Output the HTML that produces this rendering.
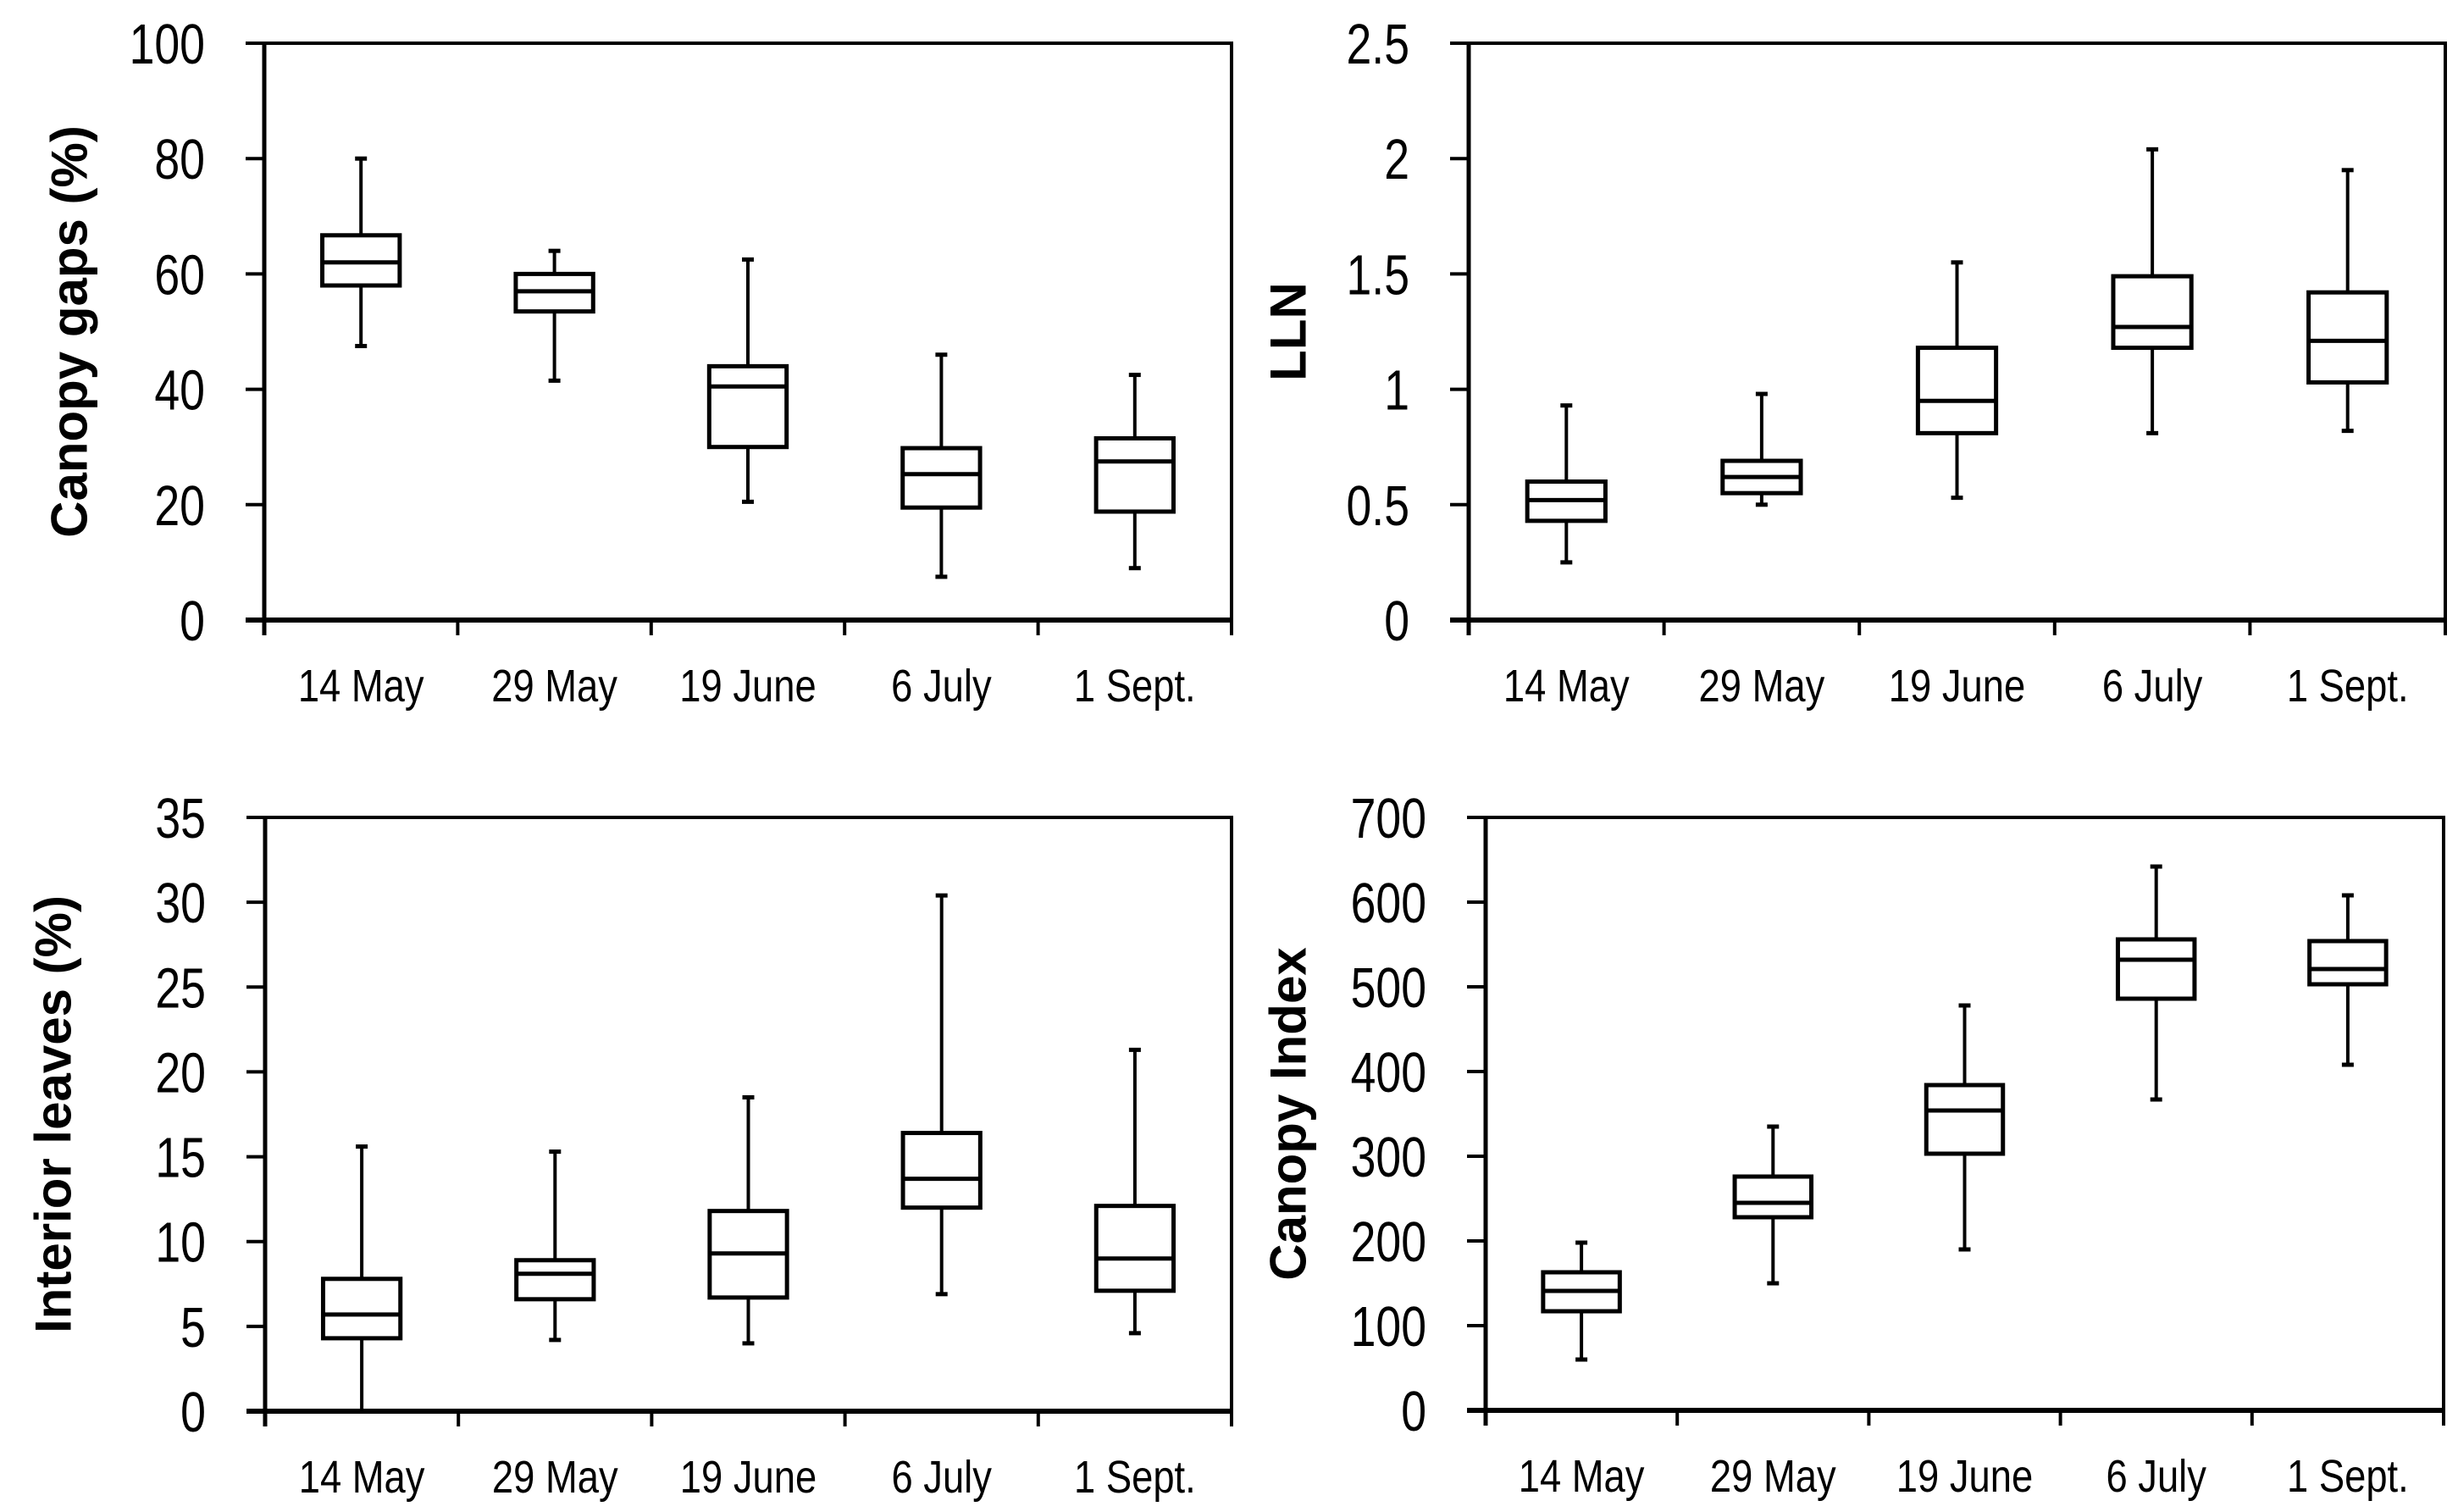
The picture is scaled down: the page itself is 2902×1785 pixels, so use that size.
<!DOCTYPE html>
<html><head><meta charset="utf-8"><style>
html,body{margin:0;padding:0;background:#fff;}
svg{display:block;}
text{font-family:"Liberation Sans",sans-serif;fill:#000;}
</style></head><body>
<svg id="fig" width="2902" height="1785" viewBox="0 0 2902 1785" xmlns="http://www.w3.org/2000/svg"></svg>
<script>
const categories = ["14 May","29 May","19 June","6 July","1 Sept."];
// Canopy gaps
const gapsMin = [47.5,41.5,20.5,7.5,9];
const gapsQ1 = [58,53.5,30,19.5,18.8];
const gapsMed = [62,57,40.5,25.3,27.5];
const gapsQ3 = [66.7,60,44,29.8,31.5];
const gapsMax = [80,64,62.5,46,42.5];
const gapsTicks = ["0","20","40","60","80","100"];
// LLN
const llnMin = [0.25,0.5,0.53,0.81,0.82];
const llnQ1 = [0.43,0.55,0.81,1.18,1.03];
const llnMed = [0.52,0.62,0.95,1.27,1.21];
const llnQ3 = [0.6,0.69,1.18,1.49,1.42];
const llnMax = [0.93,0.98,1.55,2.04,1.95];
const llnTicks = ["0","0.5","1","1.5","2","2.5"];
// Interior leaves
const intMin = [0,4.2,4,6.9,4.6];
const intQ1 = [4.3,6.6,6.7,12,7.1];
const intMed = [5.7,8.1,9.3,13.7,9];
const intQ3 = [7.8,8.9,11.8,16.4,12.1];
const intMax = [15.6,15.3,18.5,30.4,21.3];
const intTicks = ["0","5","10","15","20","25","30","35"];
// Canopy index
const ciMin = [60,150,190,367,408];
const ciQ1 = [117,228,303,486,503];
const ciMed = [141,245,354,532,521];
const ciQ3 = [163,276,384,556,554];
const ciMax = [198,335,478,642,608];
const ciTicks = ["0","100","200","300","400","500","600","700"];

const NS="http://www.w3.org/2000/svg";
const svg=document.getElementById('fig');
function mk(tag,attrs,parent){const e=document.createElementNS(NS,tag);for(const k in attrs)e.setAttribute(k,attrs[k]);(parent||svg).appendChild(e);return e;}

function panel(id,title,x0,x1,y0,y1,ticks,mn,q1,md,q3,mx,titleX){
  const g=mk('g',{});
  
  
  const tmax=parseFloat(ticks[ticks.length-1]);
  const ys=v=>y1-(v/tmax)*(y1-y0);
  const n=categories.length, step=(x1-x0)/n;
  const xs=i=>x0+step*(i+0.5);
  const fr=mk('rect',{x:x0,y:y0,width:x1-x0,height:y1-y0,fill:'none',stroke:'#000','stroke-width':4},g);
  
  
  const xa=mk('line',{x1:x0-22,x2:x1,y1:y1,y2:y1,stroke:'#000','stroke-width':6},g);
  
  
  const ya=mk('line',{x1:x0,x2:x0,y1:y0,y2:y1+18,stroke:'#000','stroke-width':5},g);
  
  
  ticks.forEach(t=>{
    const v=parseFloat(t), y=ys(v), tx0=x0-70;
    mk('line',{x1:x0-22,x2:x0,y1:y,y2:y,stroke:'#000','stroke-width':4},g);
    const tx=mk('text',{x:tx0,y:y+24,'text-anchor':'end','font-size':67,transform:`translate(${tx0} 0) scale(0.8 1) translate(${-tx0} 0)`},g);
    tx.textContent=t;
    
    
  });
  for(let i=0;i<=n;i++){mk('line',{x1:x0+step*i,x2:x0+step*i,y1:y1,y2:y1+18,stroke:'#000','stroke-width':4},g);}
  categories.forEach((c,i)=>{
    const cx=xs(i);
    const tx=mk('text',{x:cx,y:y1+96,'text-anchor':'middle','font-size':54,transform:`translate(${cx} 0) scale(0.84 1) translate(${-cx} 0)`},g);
    tx.textContent=c;
    
    
    const bw=step*0.4, cap=14;
    const bg=mk('g',{},g);
    
    
    mk('line',{x1:cx,x2:cx,y1:ys(mx[i]),y2:ys(q3[i]),stroke:'#000','stroke-width':4},bg);
    mk('line',{x1:cx,x2:cx,y1:ys(q1[i]),y2:ys(mn[i]),stroke:'#000','stroke-width':4},bg);
    mk('line',{x1:cx-cap/2,x2:cx+cap/2,y1:ys(mx[i]),y2:ys(mx[i]),stroke:'#000','stroke-width':5},bg);
    mk('line',{x1:cx-cap/2,x2:cx+cap/2,y1:ys(mn[i]),y2:ys(mn[i]),stroke:'#000','stroke-width':5},bg);
    mk('rect',{x:cx-bw/2,y:ys(q3[i]),width:bw,height:ys(q1[i])-ys(q3[i]),fill:'#fff',stroke:'#000','stroke-width':5},bg);
    mk('line',{x1:cx-bw/2,x2:cx+bw/2,y1:ys(md[i]),y2:ys(md[i]),stroke:'#000','stroke-width':5},bg);
  });
  const cy=(y0+y1)/2;
  const tt=mk('text',{x:titleX,y:cy,'text-anchor':'middle','font-size':60,'font-weight':'bold',transform:`rotate(-90 ${titleX} ${cy})`,'dominant-baseline':'central'},g);
  tt.textContent=title;
  
  
}
panel('canopy-gaps','Canopy gaps (%)',312,1454,51,732,gapsTicks,gapsMin,gapsQ1,gapsMed,gapsQ3,gapsMax,82);
panel('lln','LLN',1734,2887,51,732,llnTicks,llnMin,llnQ1,llnMed,llnQ3,llnMax,1521);
panel('interior-leaves','Interior leaves (%)',313,1454,965,1666,intTicks,intMin,intQ1,intMed,intQ3,intMax,63);
panel('canopy-index','Canopy Index',1754,2885,965,1665,ciTicks,ciMin,ciQ1,ciMed,ciQ3,ciMax,1521);
</script>
</body></html>
